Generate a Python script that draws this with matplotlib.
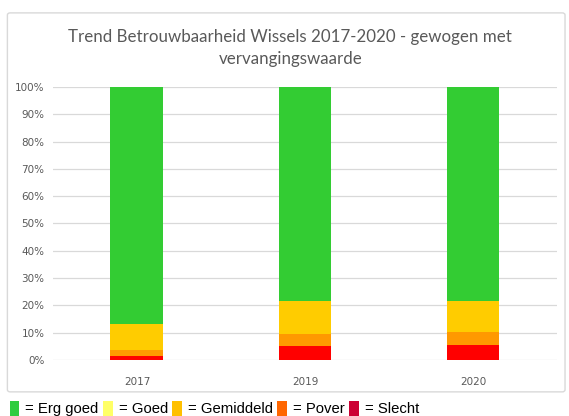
import numpy as np
import matplotlib
matplotlib.use('agg')
import matplotlib.pyplot as plt
from matplotlib.patches import FancyBboxPatch, Patch

years = ['2017', '2019', '2020']
slecht = [1.3, 5.2, 5.4]
pover = [2.4, 4.2, 4.7]
gemiddeld = [9.3, 12.0, 11.6]
goed = [0.0, 0.0, 0.0]
erg_goed = [87.0, 78.6, 78.3]

bar_colors = ['#ff0000', '#ff9900', '#ffcc00', '#ffff66', '#33cc33']
legend_names = ['Erg goed', 'Goed', 'Gemiddeld', 'Pover', 'Slecht']
legend_colors = ['#2ecc40', '#ffff66', '#ffc000', '#ff6600', '#cc0033']

fig = plt.figure(figsize=(5.69, 4.16), dpi=100)
fig.patch.set_facecolor('white')

frame = FancyBboxPatch((0.013, 0.058), 0.980, 0.911,
                       boxstyle='round,pad=0,rounding_size=0.005',
                       transform=fig.transFigure, facecolor='white',
                       edgecolor='#d9d9d9', linewidth=1.0, zorder=-1)
fig.patches.append(frame)

ax = fig.add_axes([0.093, 0.135, 0.886, 0.656])
ax.patch.set_alpha(0)
ind = np.arange(len(years))
width = 0.315

bottom = np.zeros(len(years))
for vals, col in zip([slecht, pover, gemiddeld, goed, erg_goed], bar_colors):
    ax.bar(ind, vals, width, bottom=bottom, color=col, zorder=3)
    bottom += np.array(vals)

ax.set_xlim(-0.5, 2.5)
ax.set_ylim(0, 100)
ax.set_yticks(np.arange(0, 101, 10))
ax.set_yticklabels(['%d%%' % v for v in range(0, 101, 10)])
ax.set_xticks(ind)
ax.set_xticklabels(years)
ax.grid(True, axis='y', color='#d9d9d9', linewidth=0.9, zorder=0)
for s in ax.spines.values():
    s.set_visible(False)
ax.tick_params(axis='both', length=0, labelsize=7.5, labelcolor='#595959')
ax.tick_params(axis='x', pad=12)
ax.tick_params(axis='y', pad=6)

fig.text(0.51, 0.91, 'Trend Betrouwbaarheid Wissels 2017-2020 - gewogen met',
         ha='center', va='center', fontsize=12.2, color='#595959', family='Lato')
fig.text(0.51, 0.857, 'vervangingswaarde',
         ha='center', va='center', fontsize=12.2, color='#595959', family='Lato')

handles = [Patch(facecolor=c, edgecolor='none') for c in legend_colors]
fig.legend(handles, ['= ' + n for n in legend_names], ncol=5,
           loc='center left', bbox_to_anchor=(0.017, 0.018), frameon=False,
           handlelength=0.65, handleheight=1.2, handletextpad=0.4,
           columnspacing=0.3, borderaxespad=0, borderpad=0,
           prop={'family': 'Liberation Sans', 'size': 10.7})

fig.savefig('out.png', dpi=100)
